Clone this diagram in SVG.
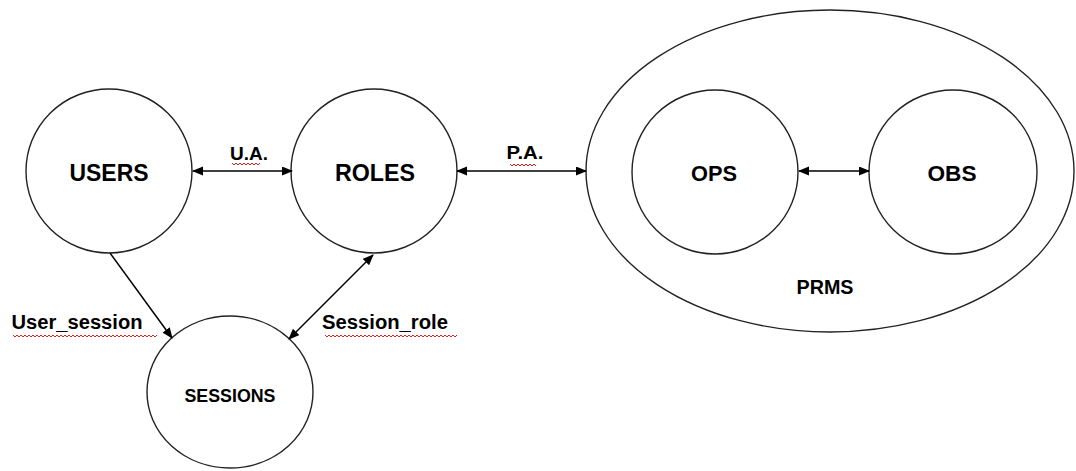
<svg xmlns="http://www.w3.org/2000/svg" width="1076" height="471" viewBox="0 0 1076 471">
<style>
.shape{fill:#fff;stroke:#222;stroke-width:1.4}
.big{fill:none;stroke:#222;stroke-width:1.4}
.lbl{font-family:"Liberation Sans",Arial,sans-serif;font-weight:bold;fill:#000;text-anchor:middle}
.edge{stroke:#000;stroke-width:1.5;fill:none}
.sq{stroke:#e02020;stroke-width:1;fill:none}
</style>
<defs>
<marker id="ah" markerUnits="userSpaceOnUse" markerWidth="11" markerHeight="10" refX="10" refY="4.5" orient="auto-start-reverse">
<path d="M0,0 L11,4.5 L0,9 z" fill="#000"/>
</marker>
</defs>
<rect width="1076" height="471" fill="#fff"/>
<g id="prms">
<ellipse class="big" cx="830" cy="171" rx="244" ry="161"/>
<text class="lbl" x="825" y="294" font-size="20" textLength="57" lengthAdjust="spacingAndGlyphs">PRMS</text>
</g>
<g id="users">
<ellipse class="shape" cx="109" cy="171" rx="83" ry="82"/>
<text class="lbl" x="109" y="181" font-size="23" textLength="79" lengthAdjust="spacingAndGlyphs">USERS</text>
</g>
<g id="roles">
<ellipse class="shape" cx="374" cy="171" rx="83" ry="82"/>
<text class="lbl" x="375" y="181" font-size="23" textLength="80" lengthAdjust="spacingAndGlyphs">ROLES</text>
</g>
<g id="sessions">
<ellipse class="shape" cx="230" cy="392" rx="83" ry="76"/>
<text class="lbl" x="230" y="402" font-size="19" textLength="91" lengthAdjust="spacingAndGlyphs">SESSIONS</text>
</g>
<g id="ops">
<ellipse class="shape" cx="715" cy="172" rx="83" ry="82"/>
<text class="lbl" x="714" y="181" font-size="22" textLength="46" lengthAdjust="spacingAndGlyphs">OPS</text>
</g>
<g id="obs">
<ellipse class="shape" cx="953" cy="172" rx="84" ry="82"/>
<text class="lbl" x="952" y="181" font-size="22" textLength="49" lengthAdjust="spacingAndGlyphs">OBS</text>
</g>
<g id="connectors">
<line class="edge" x1="193" y1="171" x2="292" y2="171" marker-start="url(#ah)" marker-end="url(#ah)"/>
<line class="edge" x1="457" y1="171" x2="586" y2="171" marker-start="url(#ah)" marker-end="url(#ah)"/>
<line class="edge" x1="799" y1="171" x2="869" y2="171" marker-start="url(#ah)" marker-end="url(#ah)"/>
<line class="edge" x1="110" y1="253" x2="172" y2="338" marker-end="url(#ah)"/>
<line class="edge" x1="373" y1="255" x2="289" y2="339" marker-start="url(#ah)" marker-end="url(#ah)"/>
<text class="lbl" x="249" y="160" font-size="19" textLength="38" lengthAdjust="spacingAndGlyphs">U.A.</text>
<text class="lbl" x="525" y="159" font-size="19" textLength="37" lengthAdjust="spacingAndGlyphs">P.A.</text>
<text class="lbl" x="77" y="329" font-size="20" textLength="131" lengthAdjust="spacingAndGlyphs">User_session</text>
<text class="lbl" x="385" y="329" font-size="20" textLength="126" lengthAdjust="spacingAndGlyphs">Session_role</text>
<path class="sq" d="M232,163 l2,2 l2,-2 l2,2 l2,-2 l2,2 l2,-2 l2,2 l2,-2 l2,2 l2,-2 l2,2 l2,-2 l2,2 l2,-2"/>
<path class="sq" d="M510,164 l2,2 l2,-2 l2,2 l2,-2 l2,2 l2,-2 l2,2 l2,-2 l2,2 l2,-2 l2,2 l2,-2 l2,2"/>
<path class="sq" d="M13,335 l2,2 l2,-2 l2,2 l2,-2 l2,2 l2,-2 l2,2 l2,-2 l2,2 l2,-2 l2,2 l2,-2 l2,2 l2,-2 l2,2 l2,-2 l2,2 l2,-2 l2,2 l2,-2 l2,2 l2,-2 l2,2 l2,-2 l2,2 l2,-2 l2,2 l2,-2 l2,2 l2,-2 l2,2 l2,-2 l2,2 l2,-2 l2,2 l2,-2 l2,2 l2,-2 l2,2 l2,-2 l2,2 l2,-2 l2,2 l2,-2 l2,2 l2,-2 l2,2 l2,-2 l2,2 l2,-2 l2,2 l2,-2 l2,2 l2,-2 l2,2 l2,-2 l2,2 l2,-2 l2,2 l2,-2 l2,2 l2,-2 l2,2 l2,-2 l2,2 l2,-2 l2,2 l2,-2 l2,2 l2,-2 l2,2 l2,-2"/>
<path class="sq" d="M325,335 l2,2 l2,-2 l2,2 l2,-2 l2,2 l2,-2 l2,2 l2,-2 l2,2 l2,-2 l2,2 l2,-2 l2,2 l2,-2 l2,2 l2,-2 l2,2 l2,-2 l2,2 l2,-2 l2,2 l2,-2 l2,2 l2,-2 l2,2 l2,-2 l2,2 l2,-2 l2,2 l2,-2 l2,2 l2,-2 l2,2 l2,-2 l2,2 l2,-2 l2,2 l2,-2 l2,2 l2,-2 l2,2 l2,-2 l2,2 l2,-2 l2,2 l2,-2 l2,2 l2,-2 l2,2 l2,-2 l2,2 l2,-2 l2,2 l2,-2 l2,2 l2,-2 l2,2 l2,-2 l2,2 l2,-2 l2,2 l2,-2 l2,2 l2,-2 l2,2 l2,-2"/>
</g>
</svg>
